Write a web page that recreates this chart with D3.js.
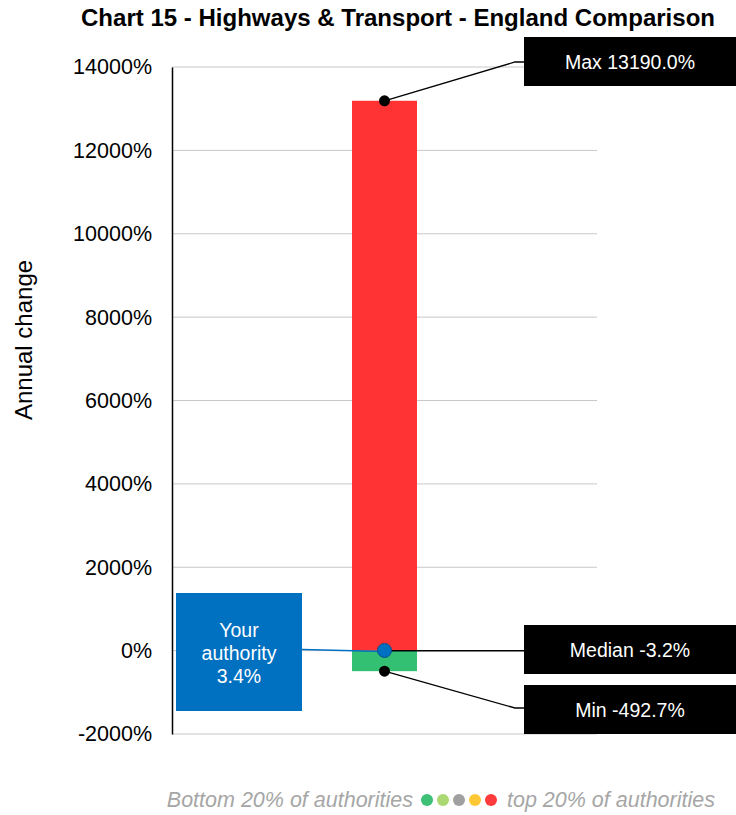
<!DOCTYPE html>
<html>
<head>
<meta charset="utf-8">
<script src="https://cdn.jsdelivr.net/npm/d3@7"></script>
<style>
  body { margin: 0; background: #fff; }
  svg { font-family: "Liberation Sans", Arial, sans-serif; }
</style>
</head>
<body>
<script>
// values
const title = "Chart 15 - Highways & Transport - England Comparison";
const yTicks = [-2000, 0, 2000, 4000, 6000, 8000, 10000, 12000, 14000];
const stats = { max: 13190.0, median: -3.2, min: -492.7 };
const yourValue = 3.4;
const legendColors = ["#3dbf75", "#abd873", "#a0a0a0", "#ffc935", "#ff3b3b"];

const width = 736, height = 815;
const x0 = 172, x1 = 597;

const y = d3.scaleLinear().domain([-2000, 14000]).range([734, 67]);

const svg = d3.select("body").append("svg")
  .attr("width", width)
  .attr("height", height);

svg.append("text")
  .attr("x", 398).attr("y", 26)
  .attr("text-anchor", "middle")
  .attr("font-size", 23.5).attr("font-weight", "bold")
  .attr("textLength", 634).attr("lengthAdjust", "spacingAndGlyphs")
  .text(title);

// grid
svg.append("g")
  .selectAll("line")
  .data(yTicks)
  .join("line")
  .attr("x1", x0).attr("x2", x1)
  .attr("y1", d => y(d)).attr("y2", d => y(d))
  .attr("stroke", "#c8c8c8").attr("stroke-width", 1);

const axis = svg.append("g")
  .attr("transform", `translate(${x0},0)`)
  .call(d3.axisLeft(y).tickValues(yTicks).tickSize(0).tickPadding(20)
    .tickFormat(d => d + "%"));
axis.select(".domain").attr("stroke", "#000").attr("stroke-width", 1.5);
axis.selectAll("text").attr("font-size", 21.5).attr("font-family", "Liberation Sans, Arial, sans-serif").attr("fill", "#000");

svg.append("text")
  .attr("transform", `translate(32,340) rotate(-90)`)
  .attr("text-anchor", "middle")
  .attr("font-size", 24)
  .text("Annual change");

// bar
const bx = 352, bw = 65, cx = bx + bw / 2;
svg.append("rect")
  .attr("x", bx).attr("width", bw)
  .attr("y", y(stats.max)).attr("height", y(stats.median) - y(stats.max))
  .attr("fill", "#ff3333");
svg.append("rect")
  .attr("x", bx).attr("width", bw)
  .attr("y", y(stats.median)).attr("height", y(stats.min) - y(stats.median))
  .attr("fill", "#33c072");

// callouts
const boxX = 524;
function callout(val, label, boxY, elbowY) {
  const py = y(val);
  svg.append("polyline")
    .attr("points", [[cx, py], [515, elbowY], [boxX, elbowY]].map(p => p.join(",")).join(" "))
    .attr("fill", "none").attr("stroke", "#000").attr("stroke-width", 1.3);
  svg.append("rect")
    .attr("x", boxX).attr("y", boxY).attr("width", width - boxX).attr("height", 49)
    .attr("fill", "#000");
  svg.append("text")
    .attr("x", (boxX + width) / 2).attr("y", boxY + 32)
    .attr("text-anchor", "middle").attr("font-size", 19.5).attr("fill", "#fff")
    .text(label);
  svg.append("circle").attr("cx", cx).attr("cy", py).attr("r", 5.5).attr("fill", "#000");
}
callout(stats.max, `Max ${stats.max.toFixed(1)}%`, 37, 62);
callout(stats.median, `Median ${stats.median.toFixed(1)}%`, 625, y(stats.median));
callout(stats.min, `Min ${stats.min.toFixed(1)}%`, 685, 708);

// your authority
svg.append("line")
  .attr("x1", 302).attr("y1", y(yourValue) - 1)
  .attr("x2", cx).attr("y2", y(yourValue) + 1)
  .attr("stroke", "#0070c0").attr("stroke-width", 1.5);
svg.append("rect")
  .attr("x", 176).attr("y", 593).attr("width", 126).attr("height", 118)
  .attr("fill", "#0070c0");
svg.append("text")
  .attr("x", 239).attr("y", 637)
  .attr("text-anchor", "middle").attr("font-size", 19.5).attr("fill", "#fff")
  .selectAll("tspan")
  .data(["Your", "authority", yourValue.toFixed(1) + "%"])
  .join("tspan")
  .attr("x", 239).attr("dy", (d, i) => i ? 23 : 0)
  .text(d => d);
svg.append("circle")
  .attr("cx", cx).attr("cy", y(yourValue)).attr("r", 7)
  .attr("fill", "#0070c0").attr("stroke", "#0a4f8a").attr("stroke-width", 1);

// legend
const ly = 800;
svg.append("text")
  .attr("x", 413).attr("y", ly + 7)
  .attr("text-anchor", "end").attr("font-size", 21.5).attr("font-style", "italic").attr("fill", "#a6a6a6")
  .text("Bottom 20% of authorities");
svg.append("g")
  .selectAll("circle")
  .data(legendColors)
  .join("circle")
  .attr("cx", (d, i) => 427 + i * 16).attr("cy", ly).attr("r", 6)
  .attr("fill", d => d);
svg.append("text")
  .attr("x", 507).attr("y", ly + 7)
  .attr("font-size", 21.5).attr("font-style", "italic").attr("fill", "#a6a6a6")
  .text("top 20% of authorities");
</script>
</body>
</html>
